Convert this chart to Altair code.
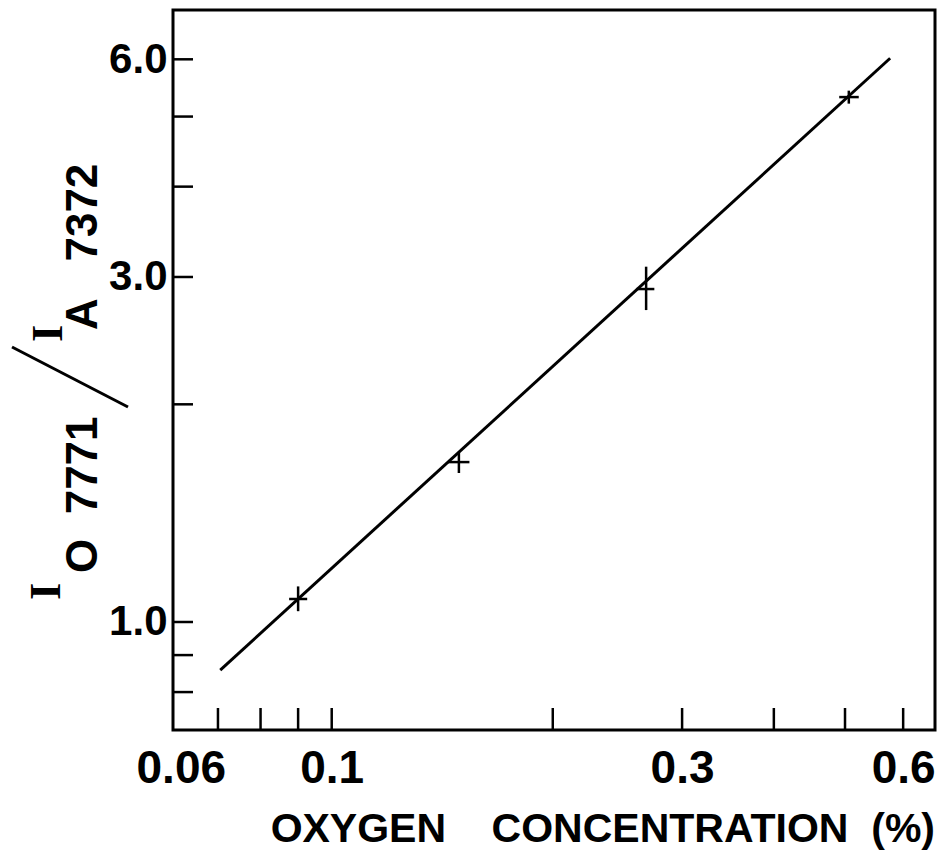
import altair as alt
import pandas as pd

# ---- data ----
o2 = [0.090, 0.149, 0.268, 0.506]
ratio = [1.076, 1.664, 2.887, 5.32]
ratio_lo = [1.035, 1.607, 2.70, 5.21]
ratio_hi = [1.12, 1.713, 3.10, 5.43]
o2_lo = [0.0875, 0.144, 0.260, 0.491]
o2_hi = [0.0926, 0.154, 0.275, 0.522]

fit_o2 = [0.0705, 0.576]
fit_ratio = [0.858, 6.02]

x_tick_values = [0.07, 0.08, 0.09, 0.1, 0.2, 0.3, 0.4, 0.5, 0.6]
x_label_values = [0.06, 0.1, 0.3, 0.6]
y_tick_values = [0.8, 0.9, 1.0, 2.0, 3.0, 4.0, 5.0, 6.0]
y_label_values = [1.0, 3.0, 6.0]
x_domain = [0.06, 0.663]
y_domain = [0.709, 7.02]

x_title = "OXYGEN\u00a0\u00a0\u00a0\u00a0CONCENTRATION\u00a0\u00a0(%)"

W, H = 762, 720
FONT = "Liberation Sans"

pts = pd.DataFrame({"o2": o2, "ratio": ratio, "lo": ratio_lo, "hi": ratio_hi,
                    "xlo": o2_lo, "xhi": o2_hi})
fit = pd.DataFrame({"o2": fit_o2, "ratio": fit_ratio})
xt = pd.DataFrame({"v": x_tick_values})
yt = pd.DataFrame({"v": y_tick_values})

# the frame's left edge sits just right of 0.06 (at about 0.0608)
xs = alt.Scale(type="log", domain=x_domain, range=[-4.2, W], nice=False)
ys = alt.Scale(type="log", domain=y_domain, nice=False)

x_axis = alt.Axis(values=x_label_values, format="~g", title=None, domain=False,
                  ticks=False, grid=False, labelFont=FONT, labelFontSize=46,
                  labelFontWeight="bold", labelColor="black", labelPadding=16,
                  labelFlush=False,
                  labelOffset={"condition": {"test": "datum.value < 0.07", "value": 12}, "value": 0})
y_axis = alt.Axis(values=y_label_values, format=".1f", title=None, domain=False,
                  ticks=False, grid=False, labelFont=FONT, labelFontSize=42,
                  labelFontWeight="bold", labelColor="black", labelPadding=6,
                  labelFlush=False)

line = alt.Chart(fit).mark_line(color="black", strokeWidth=3).encode(
    x=alt.X("o2:Q", scale=xs, axis=x_axis),
    y=alt.Y("ratio:Q", scale=ys, axis=y_axis),
)

vbar = alt.Chart(pts).mark_rule(color="black", strokeWidth=2.5).encode(
    x=alt.X("o2:Q", scale=xs, axis=x_axis),
    y=alt.Y("lo:Q", scale=ys, axis=y_axis),
    y2="hi:Q",
)
hbar = alt.Chart(pts).mark_rule(color="black", strokeWidth=2.5).encode(
    x=alt.X("xlo:Q", scale=xs, axis=x_axis),
    x2="xhi:Q",
    y=alt.Y("ratio:Q", scale=ys, axis=y_axis),
)

xticks = alt.Chart(xt).mark_rule(color="black", strokeWidth=2.5).encode(
    x=alt.X("v:Q", scale=xs, axis=x_axis),
    y=alt.value(H),
    y2=alt.value(H - 22),
)
yticks = alt.Chart(yt).mark_rule(color="black", strokeWidth=2.5).encode(
    y=alt.Y("v:Q", scale=ys, axis=y_axis),
    x=alt.value(0),
    x2=alt.value(20),
)

def label(txt, x, y, size=44, font=FONT, align="left", angle=270):
    return alt.Chart(pd.DataFrame({"t": [txt]})).mark_text(
        font=font, fontSize=size, fontWeight="bold", color="black",
        align=align, baseline="alphabetic", angle=angle,
    ).encode(x=alt.value(x), y=alt.value(y), text="t:N")

xtitle = label(x_title, W, 832, size=41, align="right", angle=0)
i1 = label("I", -113, 590, size=44, font="Liberation Serif")
sub1 = label("O\u00a0\u00a07771", -76, 563, size=44)
i2 = label("I", -111, 332, size=44, font="Liberation Serif")
sub2 = label("A\u00a0\u00a0\u00a07372", -76, 320, size=44)
slash = alt.Chart(pd.DataFrame({"k": [0]})).mark_rule(color="black", strokeWidth=3).encode(
    x=alt.value(-161), y=alt.value(337), x2=alt.value(-45), y2=alt.value(397)
)

chart = alt.layer(
    line, vbar, hbar, xticks, yticks, xtitle, i1, sub1, i2, sub2, slash
).properties(
    width=W, height=H,
    autosize=alt.AutoSizeParams(type="none"),
    padding={"left": 173, "top": 10, "right": 12, "bottom": 121},
    background="white",
).configure_view(stroke="black", strokeWidth=3)

chart.save("out.html", embed_options={"renderer": "svg", "actions": False})
